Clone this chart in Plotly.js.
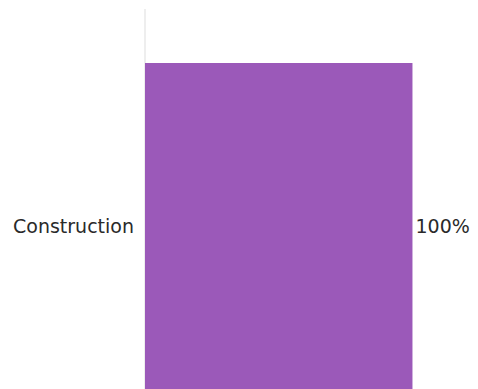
<!DOCTYPE html>
<html>
<head>
<meta charset="utf-8">
<script src="https://cdn.plot.ly/plotly-3.0.1.min.js"></script>
<style>html,body{margin:0;padding:0;background:#fff;}#chart{width:478px;height:389px;}</style>
</head>
<body>
<div id="chart"></div>
<script>
const categories = ["Construction"];
const values = [100];
const valueLabels = ["100%"];

const labelFont = {family: "DejaVu Sans", size: 19, color: "#2a2a2a"};

const trace = {
  type: "bar",
  orientation: "h",
  y: categories,
  x: values,
  text: valueLabels,
  textposition: "outside",
  cliponaxis: false,
  marker: {color: "#9b59b9"},
  textfont: labelFont,
  hoverinfo: "none",
  width: 0.8
};

const layout = {
  width: 478,
  height: 389,
  margin: {l: 145, r: 0, t: 9, b: 0, pad: 0},
  paper_bgcolor: "#fff",
  plot_bgcolor: "#fff",
  showlegend: false,
  font: labelFont,
  xaxis: {
    range: [0, 124.5],
    showgrid: false,
    zeroline: true,
    zerolinecolor: "#eeeeee",
    zerolinewidth: 2,
    showticklabels: false,
    ticks: "",
    fixedrange: true
  },
  yaxis: {
    range: [-0.4, 0.5325],
    showgrid: false,
    zeroline: false,
    ticks: "",
    ticklabelstandoff: 10,
    tickfont: labelFont,
    fixedrange: true
  }
};

Plotly.newPlot("chart", [trace], layout, {displayModeBar: false, staticPlot: true});
</script>
</body>
</html>
